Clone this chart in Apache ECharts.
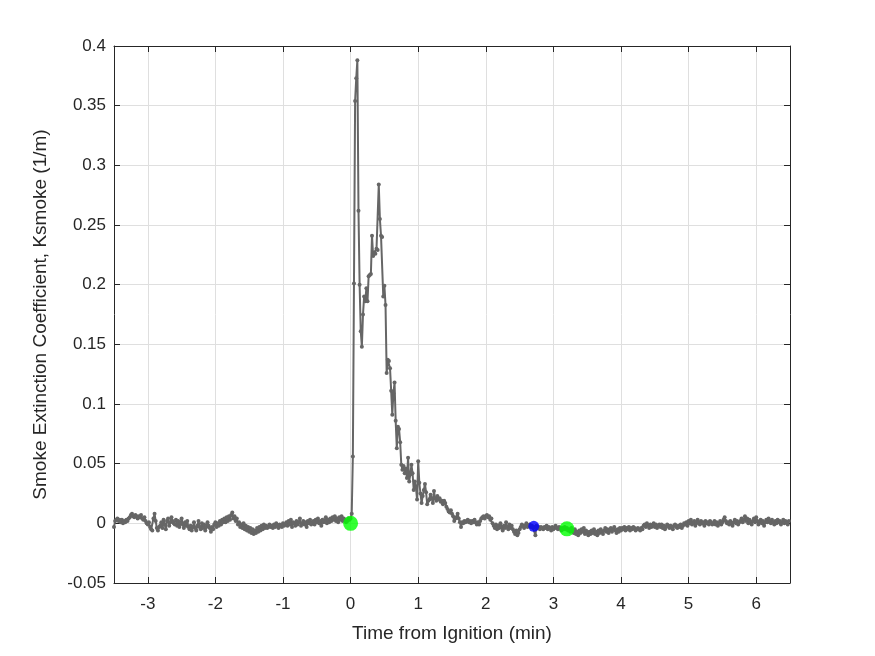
<!DOCTYPE html>
<html>
<head>
<meta charset="utf-8">
<script src="https://cdn.jsdelivr.net/npm/echarts@6/dist/echarts.min.js"></script>
<style>
  html, body { margin: 0; padding: 0; background: #fff; }
  #smokeChart { width: 875px; height: 656px; }
</style>
</head>
<body>
<div id="smokeChart"></div>
<script>
// one reading per second, times in minutes from ignition
var sampleStep = 1 / 60;

// readings before ignition (last value is 1 s before t = 0)
var beforeIgnition = [
    -0.003, 0.002, 0.003, 0.004, 0.002, 0.003,
    0.001, 0.003, 0.000, 0.002, 0.001, 0.003, 0.002, 0.004, 0.005,
    0.007, 0.008, 0.006, 0.005, 0.007, 0.006, 0.004, 0.006, 0.005, 0.007, 0.004, 0.003, 0.005,
    0.002, 0.000, -0.001, 0.001, -0.003, -0.005,
    -0.006, 0.004, 0.008,
    0.002, -0.004, -0.006, -0.003,
    -0.002, 0.001, -0.004, 0.003, -0.001, -0.005, 0.002, 0.004, -0.002, 0.001, 0.005, 0.002, 0.000,
    -0.001, 0.003, -0.002, 0.002, -0.003, 0.000, 0.004, -0.001, -0.004, 0.001, -0.002, 0.002, -0.003,
    -0.005, -0.002, -0.006, -0.003, 0.001, -0.004, -0.006, -0.002, 0.002, -0.003, -0.005, 0.000, -0.004, -0.001, -0.006, -0.003, 0.001, -0.002,
    -0.004, -0.007, -0.003, -0.005, -0.001, 0.001, -0.003, 0.000, -0.002, 0.002, -0.001, 0.003, 0.001,
    0.004, 0.001, 0.005, 0.002, 0.006, 0.003, 0.007, 0.009, 0.004, 0.006, 0.002, 0.004, -0.001, 0.001,
    -0.003, -0.001, -0.004, 0.000, -0.005, -0.002, -0.006, -0.003, -0.007, -0.004, -0.008,
    -0.005, -0.009, -0.006, -0.008, -0.004, -0.007, -0.003, -0.006, -0.002, -0.005, -0.001, -0.004,
    -0.002, -0.004, -0.003, -0.001, -0.003, -0.002, -0.004, -0.001, -0.003, 0.000, -0.002, -0.004, -0.001, -0.002, -0.003, 0.000, -0.002, -0.001,
    0.001, -0.002, 0.002, -0.001, 0.003, -0.003, 0.001, 0.000, -0.002, 0.002, -0.001, 0.001, 0.004, -0.002, 0.000, 0.002, -0.001, 0.001, -0.003, 0.002, 0.000, 0.003, -0.001, 0.001,
    0.002, -0.001, 0.003, 0.001, 0.004, 0.000, 0.002, -0.002, 0.003, 0.001, 0.002, 0.005, 0.000, 0.003, 0.001, 0.004, 0.002,
    0.005, 0.003, 0.006, 0.002, 0.004, 0.001, 0.005, 0.003, 0.006, 0.002, 0.004, 0.003, 0.001, 0.002, 0.004, 0.003
];

// readings from ignition on (first value is at t = 0)
var afterIgnition = [
    0.004, 0.008, 0.056, 0.201, 0.354, 0.373, 0.388, 0.262, 0.200, 0.161,
    0.148, 0.175, 0.190, 0.186, 0.197, 0.186, 0.207, 0.208, 0.209, 0.241,
    0.224, 0.227, 0.226, 0.230, 0.229, 0.284, 0.255, 0.241, 0.240, 0.190,
    0.199, 0.183, 0.126, 0.137, 0.136, 0.130, 0.111, 0.091, 0.109, 0.118,
    0.086, 0.063, 0.081, 0.079, 0.068, 0.049, 0.045, 0.048, 0.042, 0.046,
    0.038, 0.055, 0.035, 0.041, 0.049, 0.042, 0.028, 0.035, 0.030, 0.020,
    0.052, 0.034, 0.025, 0.017, 0.023, 0.028, 0.033, 0.026, 0.016, 0.019,
    0.020, 0.024, 0.021, 0.017, 0.027, 0.021, 0.019, 0.023, 0.020, 0.021,
    0.018, 0.019, 0.016, 0.019, 0.017, 0.014, 0.012, 0.010, 0.009, 0.011,
    0.008, 0.006, 0.002, 0.004, 0.005, 0.008, 0.004, 0.001, -0.003, 0.001,
    0.000, 0.002, 0.001, 0.002, 0.003, 0.001, 0.002, 0.000, 0.002, 0.001,
    0.003, 0.001, -0.001, 0.001, -0.001, 0.002, 0.004, 0.005, 0.006, 0.004,
    0.006, 0.007, 0.005, 0.006, 0.003, 0.004, 0.000, -0.002, -0.004, -0.001,
    -0.005, -0.002, -0.004, 0.000, -0.003, -0.006, -0.002, -0.004, 0.001, -0.003,
    -0.005, -0.001, -0.004, -0.002, -0.005, -0.007, -0.009, -0.006, -0.010, -0.008,
    -0.005, -0.003, -0.001, -0.002, -0.004, -0.002, 0.000, -0.003, -0.002, -0.001,
    -0.003, -0.002, -0.004, -0.003, -0.010, -0.002, -0.004, -0.003, -0.005, -0.003,
    -0.004, -0.005, -0.003, -0.004, -0.002, -0.005, -0.003, -0.004, -0.006, -0.003,
    -0.005, -0.004, -0.002, -0.004, -0.005, -0.003, -0.004, -0.006, -0.004, -0.005,
    -0.003, -0.005, -0.004, -0.006, -0.005, -0.007, -0.004, -0.006, -0.008, -0.005,
    -0.009, -0.007, -0.010, -0.006, -0.008, -0.005, -0.007, -0.004, -0.009, -0.006,
    -0.008, -0.010, -0.007, -0.009, -0.006, -0.008, -0.005, -0.009, -0.007, -0.010,
    -0.006, -0.008, -0.005, -0.007, -0.009, -0.006, -0.004, -0.007, -0.005, -0.008,
    -0.006, -0.004, -0.007, -0.005, -0.003, -0.006, -0.008, -0.005, -0.007, -0.004,
    -0.006, -0.004, -0.005, -0.003, -0.006, -0.004, -0.005, -0.003, -0.006, -0.004,
    -0.005, -0.003, -0.004, -0.006, -0.005, -0.004, -0.005, -0.006, -0.004, -0.005,
    -0.002, -0.001, -0.003, 0.000, -0.002, -0.004, -0.001, -0.003, -0.002, 0.000,
    -0.003, -0.001, -0.004, -0.002, -0.001, -0.003, -0.001, -0.004, -0.002, -0.005,
    -0.003, -0.001, -0.002, -0.004, -0.002, -0.003, -0.005, -0.002, -0.001, -0.003,
    -0.004, -0.002, -0.003, -0.001, -0.004, -0.002, 0.000, -0.001, 0.001, -0.002,
    0.002, 0.000, 0.003, -0.001, 0.001, 0.002, -0.002, 0.000, 0.003, 0.001,
    -0.001, 0.002, 0.000, 0.001, -0.002, 0.002, 0.000, 0.001, -0.001, 0.002,
    0.001, -0.001, 0.000, 0.002, -0.001, 0.001, -0.002, 0.000, 0.002, -0.001,
    0.001, 0.003, 0.005, 0.002, 0.000, 0.001, -0.001, 0.002, 0.000, -0.002,
    0.001, 0.003, 0.000, 0.002, -0.001, 0.001, 0.002, 0.004, 0.001, 0.003,
    0.006, 0.002, 0.004, 0.000, 0.003, 0.001, -0.001, 0.002, 0.004, 0.001,
    0.005, 0.002, -0.001, 0.001, 0.003, 0.000, 0.002, -0.002, 0.001, 0.003,
    0.001, 0.004, 0.002, 0.000, 0.003, 0.001, -0.001, 0.002, 0.000, 0.003,
    0.001, 0.002, -0.001, 0.001, 0.003, 0.000, 0.002, 0.001, -0.001, 0.002
];

// highlighted points [min, 1/m]
var greenMarks = [[0, 0], [3.2, -0.0046]];
var blueMarks = [[2.71, -0.0025]];

var xTicks = [-3, -2, -1, 0, 1, 2, 3, 4, 5, 6];
var xRange = [-3.5, 6.5];
var yRange = [-0.05, 0.4];
var yStep = 0.05;

var trace = [];
for (var i = 0; i < beforeIgnition.length; i++) {
    trace.push([(i - beforeIgnition.length) * sampleStep, beforeIgnition[i]]);
}
for (var j = 0; j < afterIgnition.length; j++) {
    trace.push([j * sampleStep, afterIgnition[j]]);
}

var font = 'Liberation Sans, Arial, Helvetica, sans-serif';
var ink = '#262626';

function boxAxis(extra) {
    var base = {
        type: 'value',
        axisLine: { show: true, onZero: false, lineStyle: { color: ink, width: 1 } },
        axisTick: { show: true, inside: true, length: 6, lineStyle: { color: ink } },
        axisLabel: { show: false },
        splitLine: { show: false }
    };
    for (var k in extra) base[k] = extra[k];
    return base;
}

var option = {
    animation: false,
    backgroundColor: '#ffffff',
    grid: { left: 114, right: 85, top: 46, bottom: 73, containLabel: false },
    xAxis: [
        boxAxis({
            position: 'bottom',
            min: xRange[0], max: xRange[1],
            name: 'Time from Ignition (min)',
            nameLocation: 'middle',
            nameGap: 41,
            nameTextStyle: { color: ink, fontSize: 19, fontFamily: font },
            axisTick: { show: true, inside: true, length: 6, lineStyle: { color: ink }, customValues: xTicks },
            axisLabel: { show: true, color: ink, fontSize: 17, fontFamily: font, margin: 13, customValues: xTicks },
            splitLine: { show: true, lineStyle: { color: '#dfdfdf', width: 1 } }
        }),
        boxAxis({
            position: 'top',
            min: xRange[0], max: xRange[1],
            axisTick: { show: true, inside: true, length: 6, lineStyle: { color: ink }, customValues: xTicks }
        })
    ],
    yAxis: [
        boxAxis({
            position: 'left',
            min: yRange[0], max: yRange[1], interval: yStep,
            name: 'Smoke Extinction Coefficient, Ksmoke (1/m)',
            nameLocation: 'middle',
            nameGap: 64,
            nameTextStyle: { color: ink, fontSize: 19, fontFamily: font },
            axisLabel: { show: true, color: ink, fontSize: 17, fontFamily: font, margin: 8 },
            splitLine: { show: true, lineStyle: { color: '#dfdfdf', width: 1 } }
        }),
        boxAxis({
            position: 'right',
            min: yRange[0], max: yRange[1], interval: yStep
        })
    ],
    series: [
        {
            name: 'Ksmoke',
            type: 'line',
            data: trace,
            showSymbol: true,
            showAllSymbol: true,
            symbol: 'circle',
            symbolSize: 4,
            sampling: null,
            itemStyle: { color: '#666666' },
            lineStyle: { color: '#666666', width: 2 },
            z: 2
        },
        {
            name: 'marks',
            type: 'scatter',
            data: greenMarks,
            symbolSize: 15,
            itemStyle: { color: '#00ff00' },
            z: 5
        },
        {
            name: 'mark2',
            type: 'scatter',
            data: blueMarks,
            symbolSize: 11,
            itemStyle: { color: '#0000ff' },
            z: 5
        }
    ]
};

var myChart = echarts.init(document.getElementById('smokeChart'));
myChart.setOption(option);
</script>
</body>
</html>
